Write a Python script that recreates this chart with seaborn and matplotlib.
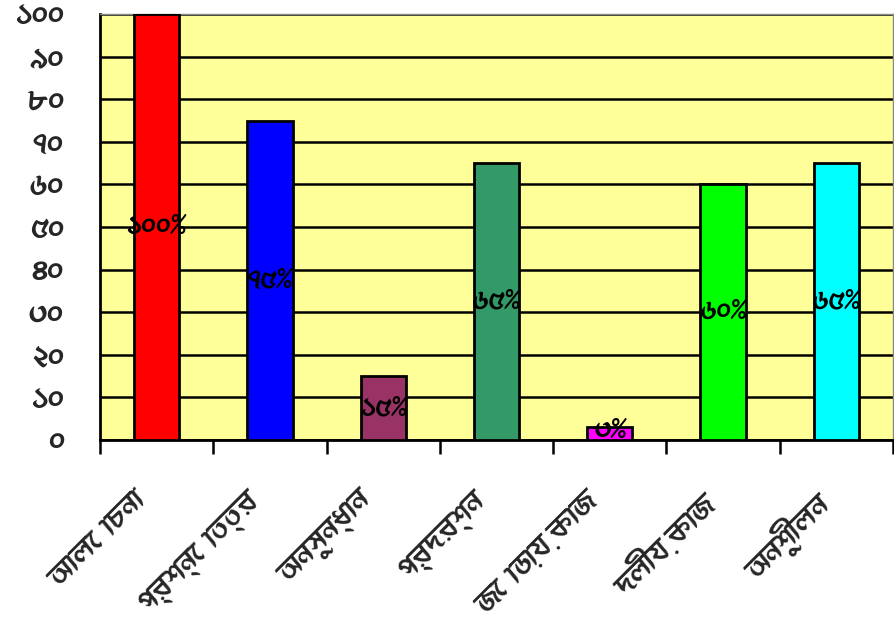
import matplotlib
matplotlib.use("Agg")
import matplotlib.pyplot as plt
from matplotlib import font_manager
import matplotlib.transforms as mtransforms
import seaborn as sns
import pandas as pd
import numpy as np

categories = ["আলোচনা", "প্রশ্নোত্তর", "অনুসন্ধান", "প্রদর্শন", "জোড়ায় কাজ", "দলীয় কাজ", "অনুশীলন"]
values = [100, 75, 15, 65, 3, 60, 65]
bar_labels = ["১০০%", "৭৫%", "১৫%", "৬৫%", "৩%", "৬০%", "৬৫%"]
ytick_values = [0, 10, 20, 30, 40, 50, 60, 70, 80, 90, 100]
ytick_labels = ["০", "১০", "২০", "৩০", "৪০", "৫০", "৬০", "৭০", "৮০", "৯০", "১০০"]
colors = ["#FF0000", "#0000FF", "#993366", "#339966", "#FF00FF", "#00FF00", "#00FFFF"]

# find a font with Bengali glyphs
beng_font = None
found = []
try:
    from fontTools.ttLib import TTFont
    for f in font_manager.fontManager.ttflist:
        try:
            tt = TTFont(f.fname, fontNumber=0, lazy=True)
            cmap = tt.getBestCmap()
            if cmap and ord("অ") in cmap and ord("১") in cmap:
                found.append(f.name)
        except Exception:
            pass
except Exception:
    pass
if found:
    beng_font = sorted(set(found))[0]
families = ([beng_font] if beng_font else []) + ["DejaVu Sans"]

sns.set_theme(style="white")
plt.rcParams["font.family"] = families

df = pd.DataFrame({"cat": categories, "val": values})

fig = plt.figure(figsize=(8.94, 6.25), dpi=100)
ax = fig.add_axes([100 / 894, 1 - 440 / 625, 793 / 894, 426 / 625])
ax.set_facecolor("#FFFF99")

sns.barplot(data=df, x="cat", y="val", hue="cat", palette=colors, width=0.4,
            saturation=1, edgecolor="black", linewidth=2, legend=False, ax=ax, zorder=3)

ax.set_ylim(0, 100)
ax.set_xlim(-0.5, len(categories) - 0.5)
ax.set_yticks(ytick_values)
ax.set_yticklabels(ytick_labels, fontsize=22)
ax.yaxis.grid(True, color="black", linewidth=1.8, zorder=0)
ax.set_axisbelow(True)
ax.tick_params(axis="y", length=0, pad=26)

ax.set_xticks(range(len(categories)))
ax.set_xticklabels(categories, rotation=45, ha="right", rotation_mode="anchor", fontsize=22)
ax.tick_params(axis="x", which="major", length=0, pad=34)
offset = mtransforms.ScaledTranslation(-24 / 100, 0, fig.dpi_scale_trans)
for lab in ax.get_xticklabels():
    lab.set_transform(lab.get_transform() + offset)
ax.set_xticks(np.arange(-0.5, len(categories) + 0.5, 1), minor=True)
ax.tick_params(axis="x", which="minor", length=10, width=1.8, color="black", bottom=True, direction="out")
ax.set_xlabel("")
ax.set_ylabel("")

for side in ["left", "bottom"]:
    ax.spines[side].set_color("black")
    ax.spines[side].set_linewidth(2)
for side in ["top", "right"]:
    ax.spines[side].set_color("#888888")
    ax.spines[side].set_linewidth(1)

for i, (v, lab) in enumerate(zip(values, bar_labels)):
    ax.text(i, max(v / 2, 2.2), lab, ha="center", va="center", fontsize=20, color="black", zorder=5)

fig.savefig("out.png", dpi=100)
